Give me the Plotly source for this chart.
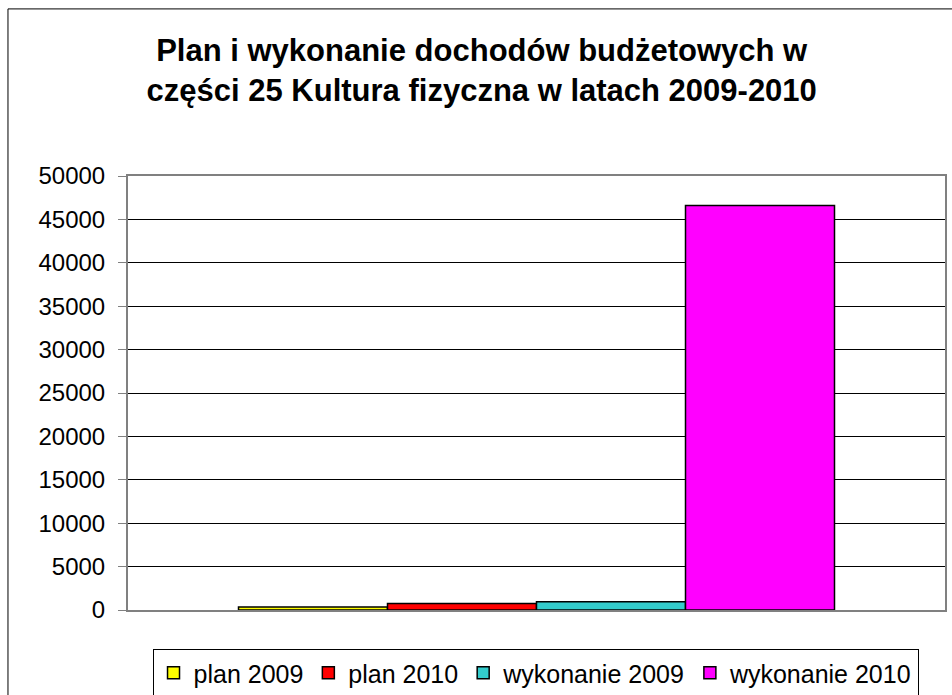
import plotly.graph_objects as go

categories = [""]
series_names = ["plan 2009", "plan 2010", "wykonanie 2009", "wykonanie 2010"]
series_values = [[350], [750], [950], [46600]]
series_colors = ["#FFFF00", "#FF0000", "#33CCCC", "#FF00FF"]
y_ticks = [0, 5000, 10000, 15000, 20000, 25000, 30000, 35000, 40000, 45000, 50000]
y_tick_labels = [str(v) for v in y_ticks]

fig = go.Figure()
for name, vals, col in zip(series_names, series_values, series_colors):
    fig.add_trace(go.Bar(x=categories, y=vals, name=name,
                         marker=dict(color=col, line=dict(color="black", width=1.5))))

fig.update_layout(
    width=952, height=695,
    paper_bgcolor="white", plot_bgcolor="white",
    margin=dict(l=128, r=7, t=176, b=85, autoexpand=False),
    barmode="group", bargap=0.2705, bargroupgap=0,
    font=dict(family="Liberation Sans, Arial", color="black", size=23),
    title=dict(text="<b>Plan i wykonanie dochodów budżetowych w<br>części 25 Kultura fizyczna w latach 2009-2010</b>",
               x=0.506, xref="container", xanchor="center", y=0.912, yref="container", yanchor="middle",
               font=dict(size=31, family="Liberation Sans, Arial", color="black")),
    showlegend=True,
    legend=dict(orientation="h", x=0.4988, xanchor="center", y=-0.090, yanchor="top",
                bordercolor="black", borderwidth=1, font=dict(size=25),
                traceorder="normal", itemwidth=30, tracegroupgap=0),
    xaxis=dict(showticklabels=False, showline=True, linecolor="#808080", linewidth=2,
               mirror=True, showgrid=False, zeroline=False),
    yaxis=dict(range=[0, 50000], tickvals=y_ticks, ticktext=y_tick_labels,
               ticks="outside", ticklen=8,
               tickcolor="#808080", showline=True, linecolor="#808080", linewidth=2,
               mirror=True, showgrid=True, gridcolor="black", gridwidth=1, zeroline=False,
               tickfont=dict(size=24), ticklabelstandoff=8),
    shapes=[
        dict(type="line", xref="paper", yref="paper",
             x0=-0.1469, x1=1.3, y0=1.385, y1=1.385,
             line=dict(color="black", width=1), layer="below"),
        dict(type="line", xref="paper", yref="paper",
             x0=-0.1469, x1=-0.1469, y0=-0.5, y1=1.385,
             line=dict(color="black", width=1), layer="below"),
    ],
)

fig.write_html("out.html", config={"displayModeBar": False},
               post_script="document.body.style.margin='0';document.body.style.overflow='hidden';")
